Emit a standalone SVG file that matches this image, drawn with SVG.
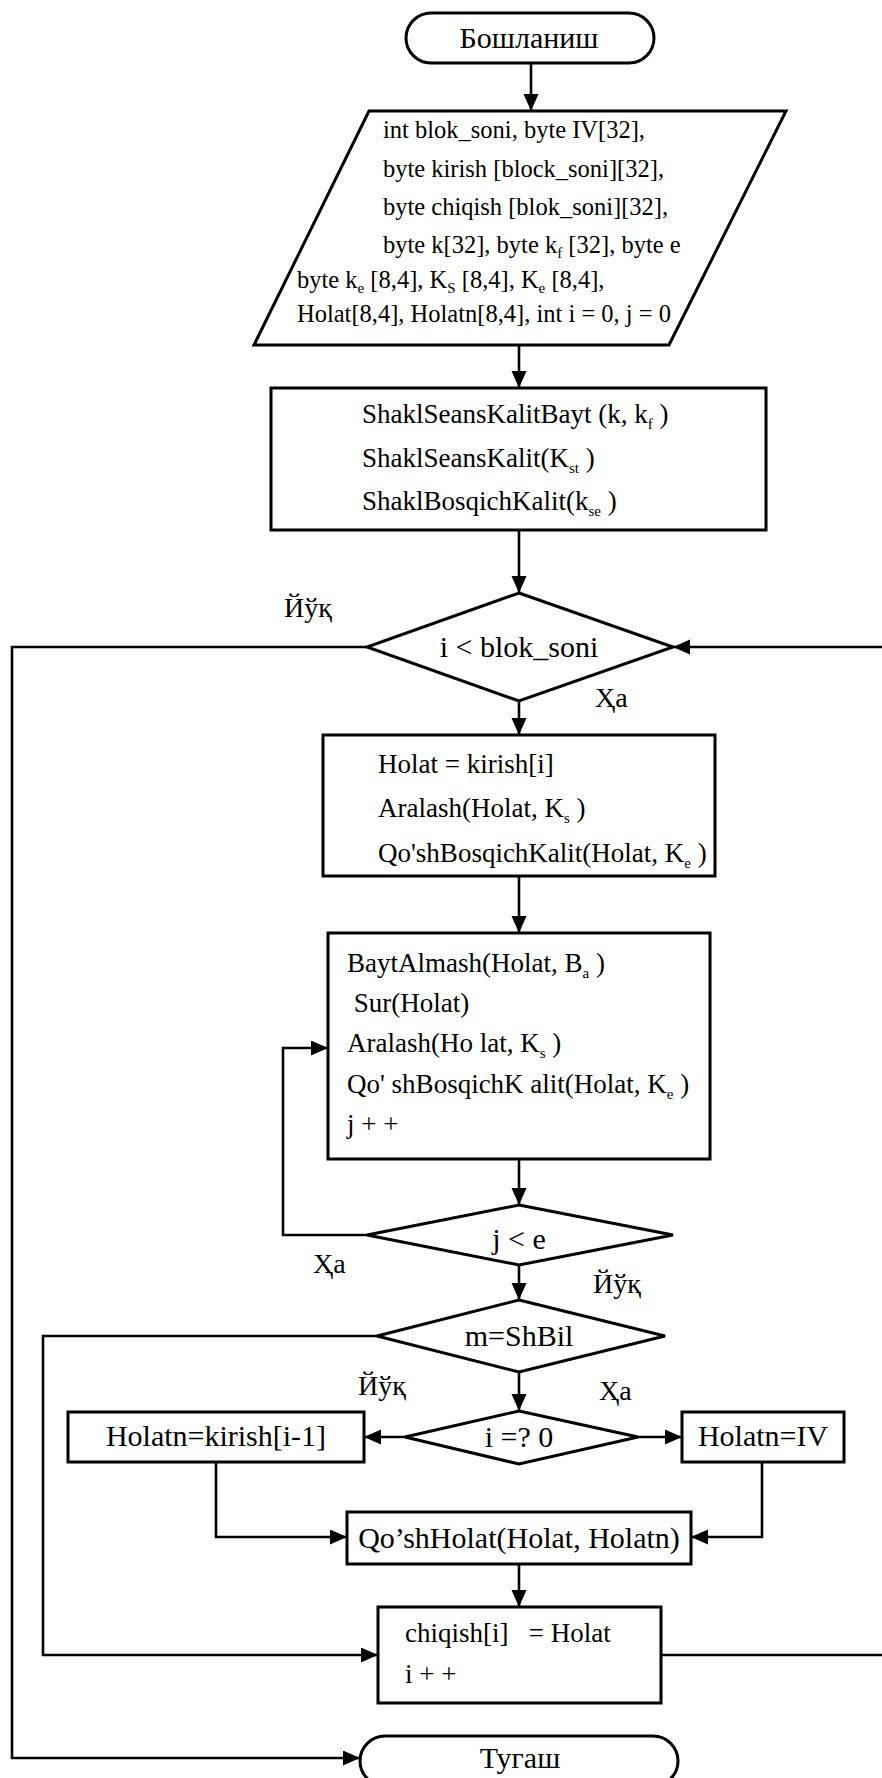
<svg xmlns="http://www.w3.org/2000/svg" width="882" height="1778" viewBox="0 0 882 1778">
  <style>
    .shape { fill: #ffffff; stroke: #000000; stroke-width: 3; }
    .wire { fill: none; stroke: #000000; stroke-width: 2.6; }
    .arrow { marker-end: url(#head); }
    text { font-family: "Liberation Serif", "Times New Roman", "DejaVu Serif", serif; fill: #000000; }
    .t30 { font-size: 30px; }
    .t27 { font-size: 27px; }
    .t24 { font-size: 24.5px; }
    .lbl { font-size: 28px; }
    .mid { text-anchor: middle; }
    .sub { font-size: 15px; }
  </style>
  <defs>
    <marker id="head" markerUnits="userSpaceOnUse" markerWidth="18" markerHeight="16" refX="17" refY="7.5" orient="auto">
      <path d="M0,0 L17,7.5 L0,15 Z" fill="#000000"/>
    </marker>
  </defs>

  <!-- connectors -->
  <g id="connectors">
    <path class="wire arrow" d="M531 63 V111"/>
    <path class="wire arrow" d="M519 345 V388"/>
    <path class="wire arrow" d="M519 530 V593"/>
    <path class="wire arrow" d="M519 701 V735"/>
    <path class="wire arrow" d="M519 876 V933"/>
    <path class="wire arrow" d="M519 1159 V1205"/>
    <path class="wire arrow" d="M519 1265 V1300"/>
    <path class="wire arrow" d="M519 1372 V1411"/>
    <path class="wire arrow" d="M519 1564 V1607"/>
    <!-- inner loop j < e -->
    <path class="wire arrow" d="M367 1235 H283 V1048 H328"/>
    <!-- exit of outer loop -->
    <path class="wire arrow" d="M367 647 H12 V1758 H360"/>
    <!-- outer loop return -->
    <path class="wire arrow" d="M661 1655 H885 V647 H673"/>
    <!-- m=ShBil bypass -->
    <path class="wire arrow" d="M377 1336 H43 V1655 H378"/>
    <!-- i =? 0 branches -->
    <path class="wire arrow" d="M405 1437 H364"/>
    <path class="wire arrow" d="M638 1437 H682"/>
    <path class="wire arrow" d="M216 1462 V1537 H347"/>
    <path class="wire arrow" d="M762 1462 V1537 H691"/>
    <!-- branch labels -->
    <text class="lbl" x="284" y="617">Йўқ</text>
    <text class="lbl" x="595" y="707">Ҳа</text>
    <text class="lbl" x="313" y="1273">Ҳа</text>
    <text class="lbl" x="593" y="1293">Йўқ</text>
    <text class="lbl" x="358" y="1395">Йўқ</text>
    <text class="lbl" x="599" y="1400">Ҳа</text>
  </g>

  <g id="start">
    <rect class="shape" x="406" y="13" width="248" height="50" rx="25" ry="25"/>
    <text class="t30 mid" x="529" y="48">Бошланиш</text>
  </g>

  <g id="input">
    <polygon class="shape" points="369,111 786,111 669,345 254,345"/>
    <text class="t24" x="383" y="138">int blok_soni, byte IV[32],</text>
    <text class="t24" x="383" y="177">byte kirish [block_soni][32],</text>
    <text class="t24" x="383" y="215">byte chiqish [blok_soni][32],</text>
    <text class="t24" x="383" y="253">byte k[32], byte k<tspan class="sub" dy="5">f</tspan><tspan dy="-5"> [32], byte e</tspan></text>
    <text class="t24" x="297" y="288">byte k<tspan class="sub" dy="5">e</tspan><tspan dy="-5"> [8,4], K</tspan><tspan class="sub" dy="5">S</tspan><tspan dy="-5"> [8,4], K</tspan><tspan class="sub" dy="5">e</tspan><tspan dy="-5"> [8,4],</tspan></text>
    <text class="t24" x="297" y="322">Holat[8,4], Holatn[8,4], int i = 0, j = 0</text>
  </g>

  <g id="keys">
    <rect class="shape" x="271" y="388" width="495" height="142"/>
    <text class="t27" x="362" y="423">ShaklSeansKalitBayt (k, k<tspan class="sub" dy="6">f</tspan><tspan dy="-6"> )</tspan></text>
    <text class="t27" x="362" y="467">ShaklSeansKalit(K<tspan class="sub" dy="6">st</tspan><tspan dy="-6"> )</tspan></text>
    <text class="t27" x="362" y="510">ShaklBosqichKalit(k<tspan class="sub" dy="6">se</tspan><tspan dy="-6"> )</tspan></text>
  </g>

  <g id="cond-i">
    <polygon class="shape" points="519,593 673,647 519,701 367,647"/>
    <text class="t30 mid" x="519" y="657">i &lt; blok_soni</text>
  </g>

  <g id="first-round">
    <rect class="shape" x="323" y="735" width="392" height="141"/>
    <text class="t27" x="378" y="773">Holat = kirish[i]</text>
    <text class="t27" x="378" y="817">Aralash(Holat, K<tspan class="sub" dy="6">s</tspan><tspan dy="-6"> )</tspan></text>
    <text class="t27" x="378" y="862">Qo'shBosqichKalit(Holat, K<tspan class="sub" dy="6">e</tspan><tspan dy="-6"> )</tspan></text>
  </g>

  <g id="rounds">
    <rect class="shape" x="328" y="933" width="382" height="226"/>
    <text class="t27" x="347" y="972">BaytAlmash(Holat, B<tspan class="sub" dy="6">a</tspan><tspan dy="-6"> )</tspan></text>
    <text class="t27" x="347" y="1012" xml:space="preserve"> Sur(Holat)</text>
    <text class="t27" x="347" y="1052">Aralash(Ho lat, K<tspan class="sub" dy="6">s</tspan><tspan dy="-6"> )</tspan></text>
    <text class="t27" x="347" y="1093">Qo' shBosqichK alit(Holat, K<tspan class="sub" dy="6">e</tspan><tspan dy="-6"> )</tspan></text>
    <text class="t27" x="347" y="1133">j + +</text>
  </g>

  <g id="cond-j">
    <polygon class="shape" points="519,1205 673,1235 519,1265 367,1235"/>
    <text class="t30 mid" x="519" y="1249">j &lt; e</text>
  </g>

  <g id="cond-mode">
    <polygon class="shape" points="519,1300 665,1336 519,1372 377,1336"/>
    <text class="t30 mid" x="519" y="1346">m=ShBil</text>
  </g>

  <g id="cond-zero">
    <polygon class="shape" points="519,1411 638,1437 519,1464 405,1437"/>
    <text class="t30 mid" x="519" y="1447">i =? 0</text>
  </g>

  <g id="prev-block">
    <rect class="shape" x="68" y="1412" width="296" height="50"/>
    <text class="t30 mid" x="216" y="1446">Holatn=kirish[i-1]</text>
  </g>

  <g id="iv-block">
    <rect class="shape" x="682" y="1412" width="162" height="50"/>
    <text class="t30 mid" x="763" y="1446">Holatn=IV</text>
  </g>

  <g id="combine">
    <rect class="shape" x="347" y="1512" width="344" height="52"/>
    <text class="t30 mid" x="519" y="1548">Qo’shHolat(Holat, Holatn)</text>
  </g>

  <g id="output">
    <rect class="shape" x="378" y="1607" width="283" height="96"/>
    <text class="t27" x="405" y="1642" xml:space="preserve">chiqish[i]   = Holat</text>
    <text class="t27" x="405" y="1683">i + +</text>
  </g>

  <g id="end">
    <rect class="shape" x="360" y="1736" width="318" height="50" rx="25" ry="25"/>
    <text class="t30 mid" x="520" y="1768">Тугаш</text>
  </g>
</svg>
